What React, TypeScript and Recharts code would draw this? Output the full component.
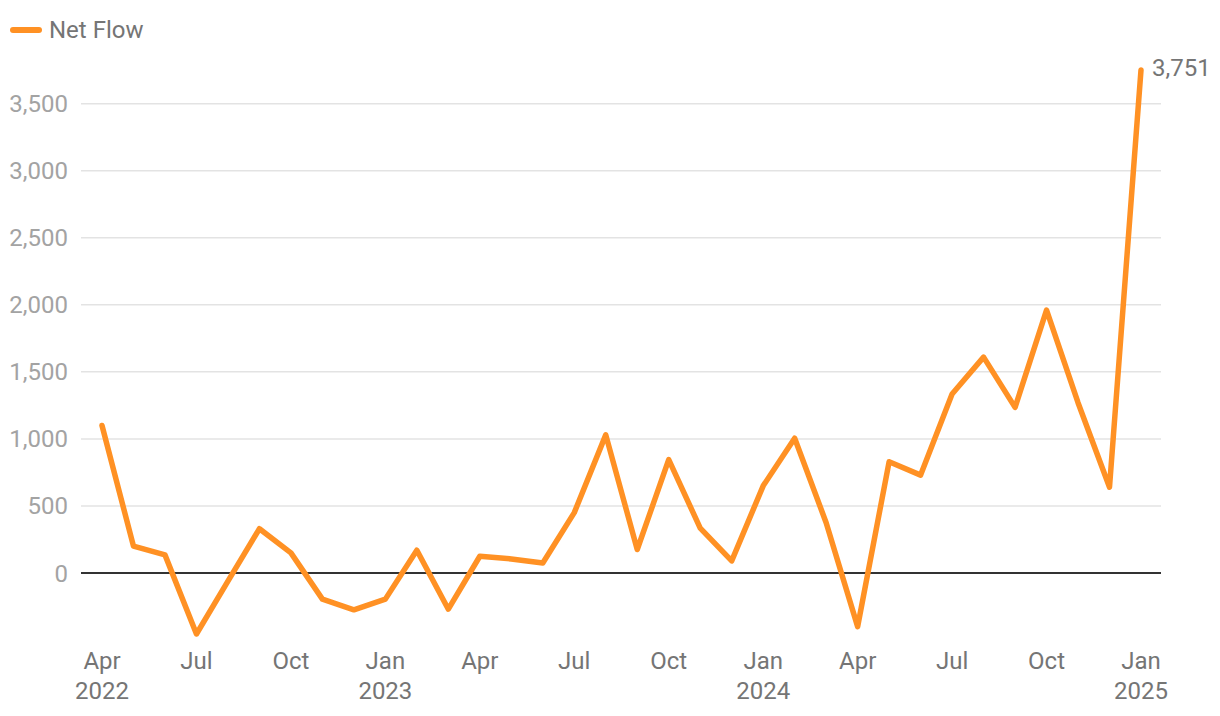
import React from "react"
import {
  LineChart,
  Line,
  XAxis,
  YAxis,
  CartesianGrid,
  ReferenceLine,
  LabelList,
} from "recharts"

const months = [
  "Apr 2022", "May 2022", "Jun 2022", "Jul 2022", "Aug 2022", "Sep 2022",
  "Oct 2022", "Nov 2022", "Dec 2022", "Jan 2023", "Feb 2023", "Mar 2023",
  "Apr 2023", "May 2023", "Jun 2023", "Jul 2023", "Aug 2023", "Sep 2023",
  "Oct 2023", "Nov 2023", "Dec 2023", "Jan 2024", "Feb 2024", "Mar 2024",
  "Apr 2024", "May 2024", "Jun 2024", "Jul 2024", "Aug 2024", "Sep 2024",
  "Oct 2024", "Nov 2024", "Dec 2024", "Jan 2025",
]

const netFlow = [
  1100, 200, 135, -455, -60, 330,
  150, -195, -275, -195, 170, -270,
  125, 105, 75, 450, 1030, 175,
  845, 335, 90, 650, 1005, 375,
  -400, 830, 730, 1335, 1610, 1235,
  1960, 1270, 640, 3751,
]

const yTicks = [0, 500, 1000, 1500, 2000, 2500, 3000, 3500]

const ORANGE = "#ff9124"
const FONT = "Roboto, sans-serif"

const data = months.map((m, i) => ({ month: m, value: netFlow[i] }))

function MonthTick(props: any) {
  const { x, y, payload, index } = props
  const [mon, year] = String(payload.value).split(" ")
  const showYear = index === 0 || mon === "Jan"
  return (
    <g transform={`translate(${x},${y})`}>
      <text textAnchor="middle" y={18} dy={8.5} fill="#757575" fontSize={24} fontFamily={FONT}>
        {mon}
      </text>
      {showYear && (
        <text textAnchor="middle" y={48} dy={8.5} fill="#757575" fontSize={24} fontFamily={FONT}>
          {year}
        </text>
      )}
    </g>
  )
}

function LastLabel(props: any) {
  const { x, y, index, value } = props
  if (index !== netFlow.length - 1) return null
  return (
    <text x={x + 11} y={y} dy={6} fill="#757575" fontSize={24} fontFamily={FONT}>
      {Number(value).toLocaleString("en-US")}
    </text>
  )
}

export default function App() {
  return (
    <div style={{ position: "relative", width: 1220, height: 716, fontFamily: FONT }}>
      <style>{`body{margin:0}`}</style>
      <div
        style={{
          position: "absolute",
          left: 10,
          top: 15,
          height: 30,
          display: "flex",
          alignItems: "center",
          gap: 7,
          color: "#757575",
          fontSize: 24,
          lineHeight: "30px",
          zIndex: 2,
        }}
      >
        <span
          style={{ display: "inline-block", width: 32, height: 6, borderRadius: 3, background: ORANGE }}
        />
        <span>Net Flow</span>
      </div>
      <LineChart
        width={1220}
        height={716}
        data={data}
        margin={{ top: 70, right: 59, bottom: 22, left: 0 }}
      >
        <CartesianGrid
          vertical={false}
          horizontalValues={yTicks}
          stroke="#e3e3e3"
          strokeWidth={1.5}
        />
        <XAxis
          dataKey="month"
          interval={2}
          tick={<MonthTick />}
          tickLine={false}
          axisLine={false}
          height={60}
          padding={{ left: 21, right: 20 }}
        />
        <YAxis
          width={81}
          domain={["dataMin", "dataMax"]}
          ticks={yTicks}
          tickFormatter={(v: number) => v.toLocaleString("en-US")}
          tick={{ fill: "#a3a3a3", fontSize: 24, fontFamily: FONT }}
          tickLine={false}
          axisLine={false}
          tickMargin={7}
        />
        <ReferenceLine y={0} stroke="#333333" strokeWidth={2} />
        <Line
          type="linear"
          dataKey="value"
          name="Net Flow"
          stroke={ORANGE}
          strokeWidth={5.5}
          strokeLinecap="round"
          strokeLinejoin="round"
          dot={false}
          activeDot={false}
          isAnimationActive={false}
        >
          <LabelList dataKey="value" content={<LastLabel />} />
        </Line>
      </LineChart>
    </div>
  )
}
